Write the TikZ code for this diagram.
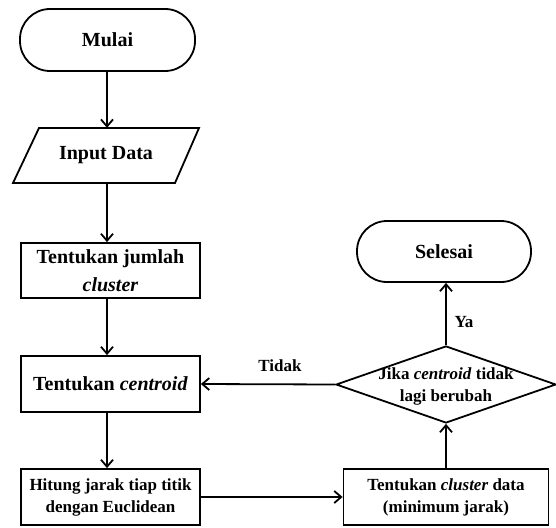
\documentclass[tikz,border=0pt]{standalone}
\usepackage{fontspec}
\setmainfont{Liberation Serif}
\usetikzlibrary{arrows.meta,shapes.geometric}
\begin{document}
\begin{tikzpicture}[x=1pt,y=1pt,
  every node/.style={font=\bfseries},
  big/.style={font=\fontsize{20}{27}\selectfont\bfseries},
  small/.style={font=\fontsize{17}{22}\selectfont\bfseries},
  term/.style={draw,line width=1.8pt,rounded corners=30pt,inner sep=0pt,align=center},
  procbox/.style={draw,line width=1.8pt,inner sep=0pt,align=center},
  arr/.style={line width=1.8pt,-{Straight Barb[length=7pt,width=12pt,line width=1.8pt]}}]
\useasboundingbox (0,0) rectangle (556,-527);
\coordinate (colx) at (107,0);
% left column
\node[term,big,minimum width=175pt,minimum height=62pt] (mulai) at (107.5,-40) {Mulai};
\draw[line width=1.8pt,line join=miter] (13,-183) -- (39,-128) -- (199,-128) -- (175,-183) -- cycle;
\node[big,inner sep=0pt,minimum width=150pt,minimum height=55pt] (input) at (106,-155.5) {Input Data};
\node[procbox,big,minimum width=179pt,minimum height=55pt] (jumlah) at (110.5,-270.5) {Tentukan jumlah\\[1pt] \textit{cluster}};
\node[procbox,big,minimum width=179pt,minimum height=56pt] (centroid) at (110.5,-384) {Tentukan \textit{centroid}};
\node[procbox,small,minimum width=179pt,minimum height=56pt] (hitung) at (110.5,-497) {Hitung jarak tiap titik\\ dengan Euclidean};
% right column
\node[procbox,small,minimum width=205pt,minimum height=56pt] (cdata) at (446,-497) {Tentukan \textit{cluster} data\\ (minimum jarak)};
\node[diamond,draw,line width=1.8pt,inner sep=0pt,minimum width=220pt,minimum height=77pt] (dec) at (446,-384.5) {};
\node[small,align=center,inner sep=0pt] (dectext) at (446,-386) {Jika \textit{centroid} tidak\\ lagi berubah};
\node[term,big,minimum width=174pt,minimum height=61pt] (selesai) at (444,-251.5) {Selesai};
% connectors
\draw[arr] (mulai.south -| colx) -- (input.north -| colx);
\draw[arr] (input.south -| colx) -- (jumlah.north -| colx);
\draw[arr] (jumlah.south -| colx) -- (centroid.north -| colx);
\draw[arr] (centroid.south -| colx) -- (hitung.north -| colx);
\draw[arr] (hitung.east) -- (cdata.west);
\draw[arr] (cdata.north) -- (dec.south);
\draw[arr] (dec.north) -- (dec.north |- selesai.south);
\draw[arr] (dec.west) -- (centroid.east);
\node[small] (tidak) at (280,-366) {Tidak};
\node[small] (ya) at (464,-322) {Ya};
\end{tikzpicture}
\end{document}
